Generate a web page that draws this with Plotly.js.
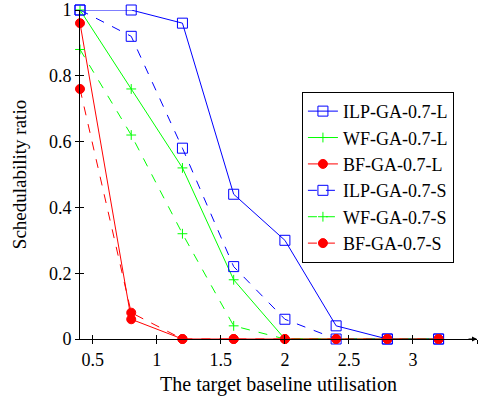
<!DOCTYPE html>
<html><head><meta charset="utf-8">
<script src="https://cdn.plot.ly/plotly-3.0.1.min.js"></script>
<style>html,body{margin:0;padding:0;background:#fff;}#chart{width:488px;height:401px;}</style>
</head><body><div id="chart"></div>
<script>
const xValues = [0.4, 0.8, 1.2, 1.6, 2.0, 2.4, 2.8, 3.2];
const ilpL = [1, 1, 0.96, 0.44, 0.30, 0.04, 0, 0];
const wfL  = [1, 0.76, 0.52, 0.18, 0, 0, 0, 0];
const bfL  = [0.96, 0.06, 0, 0, 0, 0, 0, 0];
const ilpS = [1, 0.92, 0.58, 0.22, 0.06, 0, 0, 0];
const wfS  = [0.88, 0.62, 0.32, 0.04, 0, 0, 0, 0];
const bfS  = [0.76, 0.08, 0, 0, 0, 0, 0, 0];
const seriesNames = ['ILP-GA-0.7-L','WF-GA-0.7-L','BF-GA-0.7-L','ILP-GA-0.7-S','WF-GA-0.7-S','BF-GA-0.7-S'];
const xTicks = [0.5, 1, 1.5, 2, 2.5, 3, 3.5];
const yTicks = [0, 0.2, 0.4, 0.6, 0.8, 1];

const BLUE = '#0000ff', GREEN = '#00ff00', RED = '#ff0000';
function tr(name, y, color, dash, symbol, size) {
  return {x: xValues, y: y, name: name, type: 'scatter', mode: 'lines+markers', cliponaxis: false,
    line: {color: color, width: 1, dash: dash},
    marker: {symbol: symbol, size: size, color: color, line: {color: color, width: 1}}};
}
const data = [
  tr(seriesNames[0], ilpL, BLUE, 'solid', 'square-open', 10),
  tr(seriesNames[1], wfL, GREEN, 'solid', 'cross-thin-open', 7),
  tr(seriesNames[2], bfL, RED, 'solid', 'circle', 9),
  tr(seriesNames[3], ilpS, BLUE, 'dash', 'square-open', 10),
  tr(seriesNames[4], wfS, GREEN, 'dash', 'cross-thin-open', 7),
  tr(seriesNames[5], bfS, RED, 'dash', 'circle', 9),
];
const FAM = "Liberation Serif";
function f(s) { return {family: FAM, size: s, color: '#000'}; }
const layout = {
  width: 488, height: 401,
  margin: {l: 80, r: 11, t: 10, b: 62},
  paper_bgcolor: '#fff', plot_bgcolor: '#fff',
  showlegend: true,
  font: f(18),
  xaxis: {range: [0.4, 3.5], tickvals: xTicks, ticktext: xTicks.map(String), showgrid: false, zeroline: false,
    showline: true, linecolor: '#000', linewidth: 1, ticks: 'outside', ticklen: 4, tickcolor: '#000',
    tickfont: f(18),
    title: {text: 'The target baseline utilisation', font: f(20), standoff: 8}},
  yaxis: {range: [0, 1], tickvals: yTicks, ticktext: yTicks.map(String), showgrid: false, zeroline: false,
    showline: true, linecolor: '#000', linewidth: 1, ticks: 'outside', ticklen: 4, tickcolor: '#000',
    tickfont: f(18),
    title: {text: 'Schedulability ratio', font: f(19), standoff: 17}},
  xaxis2: {overlaying: 'x', range: [0.4, 3.5], tickvals: xTicks, showticklabels: false, showgrid: false,
    zeroline: false, ticks: 'inside', ticklen: 4, tickcolor: '#000', anchor: 'y'},
  yaxis2: {overlaying: 'y', range: [0, 1], tickvals: yTicks, showticklabels: false, showgrid: false,
    zeroline: false, ticks: 'inside', ticklen: 4, tickcolor: '#000', anchor: 'x'},
  legend: {x: 0.559, y: 0.751, xanchor: 'left', yanchor: 'top', bgcolor: '#fff', bordercolor: '#000', borderwidth: 1,
    font: f(18), tracegroupgap: 0, itemwidth: 30},
  annotations: [{x: 1, y: 0, xref: 'paper', yref: 'paper', ax: -10, ay: 0, axref: 'pixel', ayref: 'pixel',
    showarrow: true, arrowhead: 2, arrowsize: 1, arrowwidth: 1, arrowcolor: '#000', text: ''}]
};
data.push({x: [0.4], y: [0], xaxis: 'x2', yaxis: 'y2', mode: 'markers', marker: {opacity: 0}, showlegend: false, hoverinfo: 'skip'});
Plotly.newPlot('chart', data, layout, {displayModeBar: false, staticPlot: true});
</script></body></html>
